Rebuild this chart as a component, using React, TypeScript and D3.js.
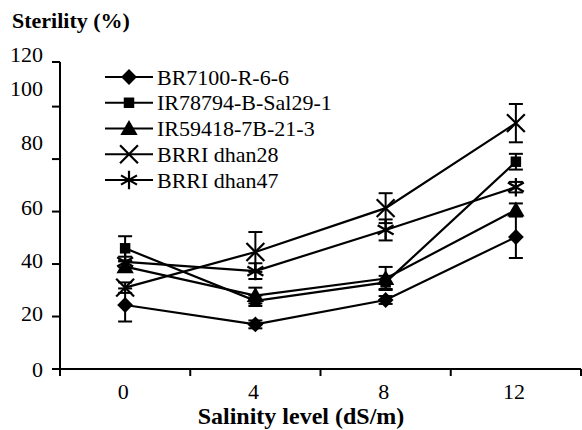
import React from 'react';
import * as d3 from 'd3';

// salinity levels (dS/m)
const levels = ['0', '4', '8', '12'];

const seriesNames = ['BR7100-R-6-6', 'IR78794-B-Sal29-1', 'IR59418-7B-21-3', 'BRRI dhan28', 'BRRI dhan47'];

// sterility (%) per line, in the order of the levels above
const br7100 = [24.4, 17.0, 26.3, 50.3];
const ir78794 = [46.0, 26.0, 33.0, 79.0];
const ir59418 = [39.0, 28.0, 34.5, 60.6];
const dhan28 = [31.0, 44.6, 61.3, 93.7];
const dhan47 = [40.8, 37.3, 53.0, 69.3];

// error (+/-)
const br7100Err = [6.3, 1.5, 1.5, 8.0];
const ir78794Err = [4.6, 2.0, 2.5, 3.0];
const ir59418Err = [2.0, 3.0, 4.4, 2.5];
const dhan28Err = [2.0, 7.6, 5.7, 7.3];
const dhan47Err = [2.0, 3.0, 4.0, 2.0];

// y tick marks and where the printed labels sit (the labels drift from the ticks in the original)
const yTicks = [0, 20, 40, 60, 80, 100];
const yTickLabels = ['0', '20', '40', '60', '80', '100', '120'];
const yLabelAt = [0, 21.3, 41.5, 61.7, 86.5, 107, 120];

const FONT = 'Liberation Serif';

const App = () => {
  const width = 582;
  const height = 430;
  const left = 60;
  const right = 581;
  const top = 62;
  const bottom = 369;

  const x = d3.scaleBand().domain(levels).range([left, right]);
  const cx = (l: string) => (x(l) as number) + x.bandwidth() / 2;
  const y = d3.scaleLinear().domain([0, 117]).range([bottom, top]);

  const symbols = [d3.symbolDiamond2, d3.symbolSquare, d3.symbolTriangle, d3.symbolTimes, d3.symbolAsterisk];
  const sizes = [160, 110, 130, 210, 240];
  const filled = [true, true, true, false, false];
  const values = [br7100, ir78794, ir59418, dhan28, dhan47];
  const errors = [br7100Err, ir78794Err, ir59418Err, dhan28Err, dhan47Err];

  const line = d3.line<number>().x((_, i) => cx(levels[i])).y(d => y(d));

  const marker = (s: number, tx: number, ty: number, key: string) => {
    const path = d3.symbol(symbols[s], sizes[s])() as string;
    // triangle centroid sits low, nudge so it centres on the point
    const dy = s === 2 ? 1.5 : 0;
    return (
      <path
        key={key}
        d={path}
        transform={`translate(${tx},${ty + dy})`}
        fill={filled[s] ? 'black' : 'none'}
        stroke="black"
        strokeWidth={filled[s] ? 0 : 2.2}
      />
    );
  };

  const legendX0 = 105;
  const legendX1 = 153;
  const legendY = d3.scalePoint().domain(seriesNames).range([77, 180]);

  const txt = { fontFamily: FONT };

  return (
    <svg width={width} height={height} style={{ position: 'absolute', left: 0, top: 0, background: 'white' }}>
      <rect width={width} height={height} fill="white" />

      {/* axes */}
      <line x1={left} x2={left} y1={top} y2={bottom} stroke="black" strokeWidth={2} />
      <line x1={left} x2={right} y1={bottom} y2={bottom} stroke="black" strokeWidth={2} />
      <line x1={left - 8} x2={left} y1={top} y2={top} stroke="black" strokeWidth={2} />
      {yTicks.map(t => (
        <line key={`yt${t}`} x1={left - 8} x2={left} y1={y(t)} y2={y(t)} stroke="black" strokeWidth={2} />
      ))}
      {yTickLabels.map((t, i) => (
        <text key={`yl${t}`} x={43} y={y(yLabelAt[i])} dy="0.35em" textAnchor="end" fontSize={22} style={txt}>
          {t}
        </text>
      ))}
      {levels.map(l => (
        <line
          key={`xt${l}`}
          x1={(x(l) as number) + x.bandwidth()}
          x2={(x(l) as number) + x.bandwidth()}
          y1={bottom}
          y2={bottom + 7}
          stroke="black"
          strokeWidth={2}
        />
      ))}
      <line x1={left} x2={left} y1={bottom} y2={bottom + 7} stroke="black" strokeWidth={2} />
      {levels.map(l => (
        <text key={`xl${l}`} x={cx(l) - 2} y={399} textAnchor="middle" fontSize={22} style={txt}>
          {l}
        </text>
      ))}

      <text x={12} y={28} fontSize={22} fontWeight="bold" style={txt}>Sterility (%)</text>
      <text x={301} y={424} fontSize={24} fontWeight="bold" textAnchor="middle" style={txt}>
        Salinity level (dS/m)
      </text>

      {/* error bars */}
      {values.map((vals, s) =>
        vals.map((v, i) => {
          const e = errors[s][i];
          const px = cx(levels[i]);
          return (
            <g key={`e${s}-${i}`} stroke="black" strokeWidth={2}>
              <line x1={px} x2={px} y1={y(v - e)} y2={y(v + e)} />
              <line x1={px - 7} x2={px + 7} y1={y(v - e)} y2={y(v - e)} />
              <line x1={px - 7} x2={px + 7} y1={y(v + e)} y2={y(v + e)} />
            </g>
          );
        })
      )}

      {/* lines */}
      {values.map((vals, s) => (
        <path key={`l${s}`} d={line(vals) as string} fill="none" stroke="black" strokeWidth={2.2} />
      ))}

      {/* markers */}
      {values.map((vals, s) => vals.map((v, i) => marker(s, cx(levels[i]), y(v), `m${s}-${i}`)))}

      {/* legend */}
      {seriesNames.map((n, s) => {
        const ly = legendY(n) as number;
        return (
          <g key={`lg${s}`}>
            <line x1={legendX0} x2={legendX1} y1={ly} y2={ly} stroke="black" strokeWidth={2.2} />
            {marker(s, (legendX0 + legendX1) / 2, ly, `lm${s}`)}
            <text x={157} y={ly} dy="0.35em" fontSize={22} style={txt}>
              {n}
            </text>
          </g>
        );
      })}
    </svg>
  );
};

export default App;
